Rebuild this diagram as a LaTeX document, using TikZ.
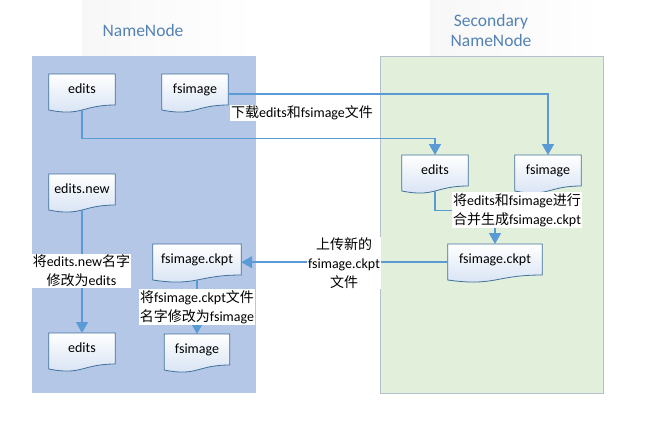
\documentclass[tikz,border=0pt]{standalone}
\usepackage{fontspec}
\setmainfont{Carlito}
\newfontfamily\cjk{Noto Sans CJK SC}
\usepackage{xcolor}
\usetikzlibrary{arrows.meta,positioning}
\pgfdeclarelayer{bg}
\pgfdeclarelayer{docs}
\pgfsetlayers{bg,docs,main}
\definecolor{nnblue}{RGB}{180,199,231}
\definecolor{snngreen}{RGB}{226,239,218}
\definecolor{snnedge}{RGB}{180,192,206}
\definecolor{titleblue}{RGB}{84,130,181}
\definecolor{linkblue}{RGB}{91,155,213}
\definecolor{docedge}{RGB}{65,113,156}
\definecolor{docshade}{RGB}{212,225,243}

\tikzset{
  doc/.style={anchor=north, inner xsep=2pt, inner ysep=0pt, text height=19pt, text depth=17pt, minimum width=66pt, font=\fontsize{14}{19}\selectfont},
  docbody/.style={draw=docedge, line width=0.8pt, top color=white, bottom color=docshade},
  link/.style={draw=linkblue, line width=1.5pt, -{Triangle[length=11pt,width=12pt]}},
  lab/.style={fill=white, align=center, inner sep=1pt, font=\fontsize{14}{19}\selectfont},
  title/.style={text=titleblue, align=center, font=\fontsize{17.5}{20}\selectfont},
  panel/.style={minimum width=224pt, minimum height=337pt, inner sep=0pt}
}
% wavy document outline behind a doc node
\newcommand\docshape[1]{%
  \begin{pgfonlayer}{docs}
  \path[docbody] (#1.north west) -- (#1.north east) -- ([yshift=-31pt]#1.north east)
    .. controls ([yshift=-31pt]#1.north) and ([yshift=-42.7pt]#1.north) .. ([yshift=-36pt]#1.north west) -- cycle;
  \end{pgfonlayer}}

\begin{document}
\begin{tikzpicture}[x=1pt,y=-1pt]
\useasboundingbox (0,0) rectangle (649,421);
\begin{pgfonlayer}{bg}
\fill[left color=black!3, right color=white] (82,0) rectangle (256,56);
\fill[left color=black!3, right color=white] (430,0) rectangle (603,56);
\node (nnP) at (144,224.5) [panel, fill=nnblue] {};
\node (snnP) at (491.5,224.5) [panel, fill=snngreen, draw=snnedge, minimum width=223pt] {};
\end{pgfonlayer}
\node (nnT) at (143,30) [title] {NameNode};
\node (snnT) at (491,30) [title] {Secondary\\NameNode};

% NameNode files
\node (eA) at (82,74) [doc] {edits};
\node (fA) at (195,74) [doc] {fsimage};
\node (nA) at (82,174) [doc] {edits.new};
\node (cA) at (197,244) [doc, minimum width=88pt] {fsimage.ckpt};
\node (eC) at (82,333) [doc] {edits};
\node (fC) at (197,334) [doc, minimum width=65pt] {fsimage};
% SecondaryNameNode files
\node (eB) at (435,155) [doc] {edits};
\node (fB) at (548,155) [doc] {fsimage};
\node (cB) at (495,244) [doc, minimum width=94pt] {fsimage.ckpt};

\docshape{eA}
\docshape{fA}
\docshape{nA}
\docshape{cA}
\docshape{eC}
\docshape{fC}
\docshape{eB}
\docshape{fB}
\docshape{cB}

\draw[link] ([yshift=-2pt]fA.east) -| (fB.north);
\draw[link] (eA.south) -- ++(0,28) -| (eB.north);
\draw[link] (eB.south) -- ++(0,19) -| (cB.north);
\draw[link] (cB.west) -- (cA.east);
\draw[link] (nA.south) -- (eC.north);
\draw[link] (cA.south) -- (fC.north);

\node (dl) at (302,113) [lab] {{\cjk 下载}edits{\cjk 和}fsimage{\cjk 文件}};
\node (mg) at (517,210) [lab] {{\cjk 将}edits{\cjk 和}fsimage{\cjk 进行}\\{\cjk 合并生成}fsimage.ckpt};
\node (up) at (344,263) [lab] {{\cjk 上传新的}\\fsimage.ckpt\\{\cjk 文件}};
\node (rn) at (81.5,271) [lab] {{\cjk 将}edits.new{\cjk 名字}\\{\cjk 修改为}edits};
\node (rf) at (197,307) [lab] {{\cjk 将}fsimage.ckpt{\cjk 文件}\\{\cjk 名字修改为}fsimage};
\end{tikzpicture}
\end{document}
